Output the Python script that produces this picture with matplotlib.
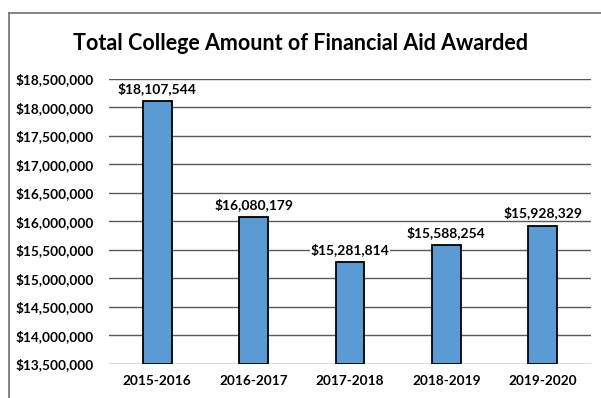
import matplotlib.pyplot as plt
from matplotlib.lines import Line2D

years = ['2015-2016', '2016-2017', '2017-2018', '2018-2019', '2019-2020']
aid = [18107544, 16080179, 15281814, 15588254, 15928329]
yticks = [13500000, 14000000, 14500000, 15000000, 15500000,
          16000000, 16500000, 17000000, 17500000, 18000000, 18500000]

plt.rcParams['font.family'] = ['Lato', 'DejaVu Sans']

fig = plt.figure(figsize=(6.01, 3.98), dpi=100)
ax = fig.add_axes([109 / 601, 34 / 398, 482 / 601, 285 / 398])

# outer chart frame (top and left edges only)
fig.add_artist(Line2D([9 / 601, 1], [1 - 13 / 398, 1 - 13 / 398], color='#6e6e6e', lw=1.2))
fig.add_artist(Line2D([9 / 601, 9 / 601], [0, 1 - 13 / 398], color='#6e6e6e', lw=1.2))

x = range(len(years))
ax.bar(x, [v - yticks[0] for v in aid], bottom=yticks[0], width=0.3,
       color='#5b9bd5', edgecolor='black', linewidth=1.3, zorder=3)

for i, v in enumerate(aid):
    ax.text(i, v + 110000, '${:,}'.format(v), ha='center', va='bottom',
            fontsize=10, fontweight='bold', zorder=4,
            bbox=dict(facecolor='white', edgecolor='none', pad=0.5))

ax.set_ylim(yticks[0], yticks[-1])
ax.set_xlim(-0.5, len(years) - 0.5)
ax.set_yticks(yticks)
ax.set_yticklabels(['${:,}'.format(t) for t in yticks], fontsize=9.8, fontweight='bold')
ax.set_xticks(list(x))
ax.set_xticklabels(years, fontsize=9.8, fontweight='bold')
ax.tick_params(axis='y', length=0, pad=11)
ax.tick_params(axis='x', length=0, pad=8)
ax.yaxis.grid(True, color='#5a5a5a', linewidth=1.0, zorder=0)
for s in ax.spines.values():
    s.set_visible(False)

fig.text(0.5, 1 - 43 / 398, 'Total College Amount of Financial Aid Awarded',
         ha='center', va='center', fontsize=15.5, fontweight='bold')

fig.savefig('out.png', dpi=100)
